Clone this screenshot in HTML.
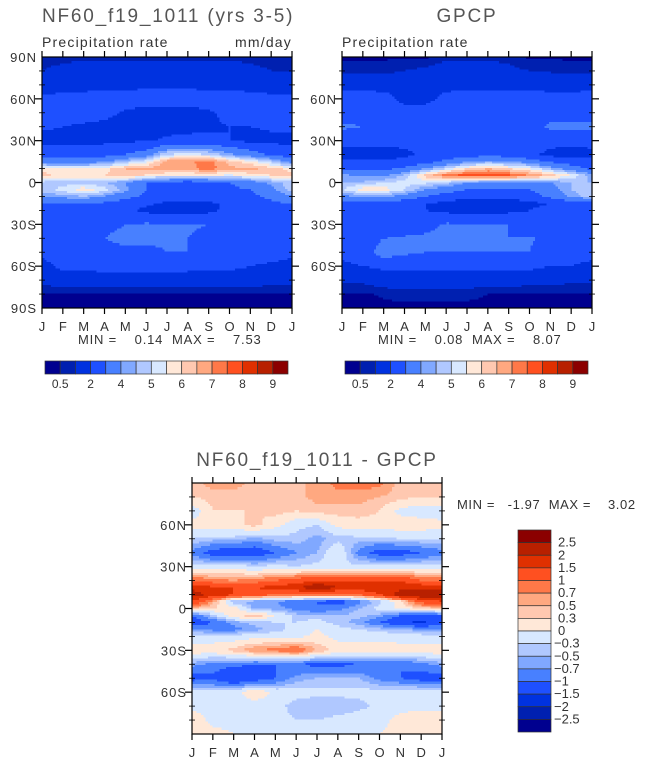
<!DOCTYPE html>
<html><head><meta charset="utf-8">
<style>
html,body{margin:0;padding:0;background:#fff;}
svg{display:block;font-family:"Liberation Sans",sans-serif;}
</style></head>
<body>
<svg id="root" width="645" height="763" viewBox="0 0 645 763" xmlns="http://www.w3.org/2000/svg">
<g id="p1"></g>
<g id="p2"></g>
<g id="p3"></g>
<g id="cb"></g>
<g id="txt">
<text x="42" y="22" font-size="19" letter-spacing="1.8" fill="#555">NF60_f19_1011 (yrs 3-5)</text>
<text x="42" y="47" font-size="14" letter-spacing="1.2" fill="#333">Precipitation rate</text>
<text x="292" y="47" font-size="14" letter-spacing="1.2" fill="#333" text-anchor="end">mm/day</text>
<text x="78" y="344" font-size="13" letter-spacing="0.8" fill="#333" xml:space="preserve">MIN =    0.14  MAX =    7.53</text>
<text x="467" y="22" font-size="19" letter-spacing="1.8" fill="#555" text-anchor="middle">GPCP</text>
<text x="342" y="47" font-size="14" letter-spacing="1.2" fill="#333">Precipitation rate</text>
<text x="378" y="344" font-size="13" letter-spacing="0.8" fill="#333" xml:space="preserve">MIN =    0.08  MAX =    8.07</text>
<text x="317" y="466" font-size="19" letter-spacing="1.8" fill="#555" text-anchor="middle">NF60_f19_1011 - GPCP</text>
<text x="457" y="509" font-size="13" letter-spacing="0.6" fill="#333" xml:space="preserve">MIN =   -1.97  MAX =    3.02</text>
</g>
</svg>
<script>
const months=['J','F','M','A','M','J','J','A','S','O','N','D','J'];
const lats=[90,80,70,60,50,40,30,20,15,10,5,0,-5,-10,-15,-20,-30,-40,-50,-60,-70,-80,-90];
const modelVals=[
[0.8,0.8,0.8,0.8,0.8,0.8,0.7,0.7,0.8,0.8,0.8,0.8,0.8],
[1.0,1.2,1.5,1.5,1.5,1.5,1.5,1.5,1.5,1.5,1.2,1.0,1.0],
[1.6,1.7,1.8,1.8,1.8,1.9,1.9,1.9,1.8,1.8,1.7,1.6,1.6],
[2.2,2.2,2.2,2.3,2.3,2.3,2.3,2.3,2.3,2.3,2.3,2.2,2.2],
[2.3,2.3,2.3,2.2,1.9,1.8,1.8,1.8,1.9,2.2,2.3,2.3,2.3],
[2.1,2.0,1.9,1.8,1.7,1.7,1.8,1.8,1.9,2.0,2.0,2.1,2.1],
[1.8,1.8,1.8,1.8,1.9,1.9,2.1,2.2,2.2,2.0,1.8,1.8,1.8],
[2.5,2.5,2.5,2.7,3,3.5,5,5.2,5,4.2,3.5,2.8,2.5],
[3.5,3.5,3.5,3.8,4.6,5.3,6.8,6.9,7.2,6.3,5.6,4.8,3.5],
[5.8,5.5,5.5,5.8,6.5,6.6,6.9,6.8,7.3,6.6,6.7,6.3,5.8],
[6.2,5.8,5.8,6,6.4,5.9,5.5,5.5,5.5,5.4,5.7,6,6.2],
[4.8,4.7,4.8,4.5,4,3,2.8,2.5,2.8,3,3.5,4.2,4.8],
[4.8,5.2,5.8,5.3,4.2,3,2.6,2.6,2.8,2.8,3,3.8,4.8],
[4,4.3,4.5,4,3.3,2.8,2.5,2.5,2.6,2.8,2.8,3.2,4],
[3,3,3,2.8,2.5,2.2,1.8,1.8,1.8,2.2,2.5,2.8,3],
[2.5,2.5,2.5,2.2,2.2,1.8,1.6,1.6,1.8,2.2,2.5,2.5,2.5],
[2.5,2.5,2.6,2.8,3,3.1,3.1,3.1,3,2.8,2.6,2.5,2.5],
[2.2,2.4,2.6,3,3.2,3.2,3.1,3,2.8,2.5,2.2,2.2,2.2],
[2.2,2.5,2.8,2.8,2.8,2.8,3,3,2.8,2.8,2.8,2.5,2.2],
[1.7,2.2,2.2,2.3,2.3,2.3,2.3,2.3,2.2,2.2,2,1.8,1.7],
[1.4,1.5,1.5,1.6,1.6,1.5,1.5,1.5,1.5,1.5,1.5,1.4,1.4],
[0.4,0.4,0.4,0.4,0.4,0.4,0.4,0.4,0.4,0.4,0.4,0.4,0.4],
[0.3,0.3,0.3,0.3,0.3,0.3,0.3,0.3,0.3,0.3,0.3,0.3,0.3]];
const gpcpVals=[
[0.4,0.4,0.4,0.4,0.4,0.8,0.8,0.8,0.8,0.4,0.4,0.4,0.4],
[0.8,0.8,0.8,1,1.2,1.5,1.5,1.5,1.2,1,0.9,0.8,0.8],
[1.6,1.6,1.7,1.7,1.8,1.8,1.8,1.8,1.8,1.8,1.7,1.6,1.6],
[2.5,2.5,2.3,1.8,1.8,2.2,2.3,2.3,2.3,2.3,2.3,2.4,2.5],
[2.5,2.5,2.3,2.3,2.3,2.3,2.3,2.3,2.3,2.5,2.6,2.6,2.5],
[3.2,3,2.5,2.3,2.3,2.3,2.3,2.3,2.3,2.6,3.2,3.2,3.2],
[2.3,2.3,2.3,2.3,2.3,2.3,2.3,2.3,2.3,2.3,2.3,2.3,2.3],
[1.5,1.5,1.5,1.8,2.2,2.5,2.6,2.7,2.6,2.2,1.8,1.5,1.8],
[2.2,2.2,2.2,2.3,2.5,3.2,3.8,4.2,4,3.5,2.8,2.5,2.2],
[2.8,2.8,2.8,3.2,4,5,6,6.5,6,5.5,4.5,3.5,2.8],
[4.2,3.8,3.8,4.6,6.2,7.3,7.8,8,7.6,7,6.3,5.5,4.2],
[4.5,4.6,5,5.2,5.2,4.8,4,3.8,3.8,4,4,4.5,4.5],
[5,5.8,5.8,5,4,3.5,3,3,3,3,3.6,4.5,5],
[3.8,4.2,4.2,3.7,3,2.5,2.3,2.3,2.3,2.5,3.3,4.2,4.8],
[2.5,2.5,2.5,2.3,2,1.8,1.5,1.5,1.5,1.8,2,2.3,2.5],
[2.3,2.3,2.3,2.3,2,1.8,1.6,1.6,1.8,2,2.3,2.3,2.3],
[2.3,2.3,2.3,2.5,2.8,3.1,3.1,3.1,3,2.5,2.3,2.3,2.3],
[2.3,2.4,3,3.1,3.1,3.1,3,3,3,3.1,2.8,2.3,2.3],
[2.3,2.5,3.5,3.2,3,3,3,3,3,3,2.5,2.3,2.3],
[1.8,2,2.2,2.2,2.2,2.2,2.2,2.2,2.2,2.2,2,2,1.8],
[1.2,1.2,1.5,1.5,1.5,1.5,1.5,1.5,1.5,1.4,1.3,1.2,1.2],
[0.4,0.4,0.6,0.8,0.8,0.8,0.7,0.5,0.4,0.4,0.4,0.4,0.4],
[0.3,0.3,0.3,0.3,0.3,0.3,0.3,0.3,0.3,0.3,0.3,0.3,0.3]];
const diffVals=[
[0.4,0.6,0.6,0.4,0.4,0.5,0.5,0.8,0.8,0.8,0.4,0.3,0.3],
[0.3,0.4,0.4,0.4,0.4,0.4,0.6,0.6,0.6,0.5,0.4,0.3,0.3],
[-0.2,0.3,0.3,0.3,0.4,0.3,0.4,0.4,0.4,0.3,-0.1,-0.2,-0.2],
[0.1,0.2,0.2,0.4,0.1,-0.2,-0.3,0.1,0.2,0.2,0.2,0.2,0.1],
[-0.3,-0.4,-0.4,-0.6,-0.4,-0.4,-0.6,-0.4,-0.4,-0.4,-0.3,-0.3,-0.3],
[-0.8,-1.2,-1.3,-1.3,-1,-0.7,-0.5,0,-0.8,-1.2,-1.2,-1,-0.8],
[-0.2,-0.2,-0.1,-0.3,-0.2,-0.3,-0.2,-0.3,-0.2,-0.2,-0.2,-0.2,-0.2],
[1,0.8,0.7,0.8,1,1.2,1.5,1.5,1.4,1.5,1.5,1,1],
[1.8,1.6,1.5,1.5,1.7,1.9,2.6,2,1.8,1.8,1.8,1.9,1.8],
[2.3,1.8,1.5,1.2,1,0.9,0.8,0.8,1,1.5,2.3,2.5,2.3],
[1.5,0.6,-0.5,-0.6,-0.7,-0.9,-1,-1.2,-0.8,-0.4,0.2,1.2,1.5],
[0.4,0.3,0.2,-0.6,-0.6,-0.8,-1,-0.8,-0.5,-0.2,0.1,0.3,0.4],
[-1,-0.4,0.2,0.5,0,-0.4,-0.4,-0.5,-0.4,-0.6,-1,-1.3,-1],
[-1.3,-1,-0.6,-0.4,-0.3,-0.3,-0.2,-0.4,-0.6,-1,-1.4,-1.6,-1.3],
[-0.6,-0.8,-0.8,-0.6,-0.4,-0.2,0,-0.2,-0.3,-0.4,-0.5,-0.6,-0.6],
[-0.3,-0.2,-0.2,-0.1,-0.1,-0.1,0.1,-0.1,-0.1,-0.1,-0.2,-0.2,-0.3],
[0.2,0.2,0.4,0.7,0.8,1,0.5,0.2,0.2,0.2,0.2,0.2,0.2],
[-0.6,-0.8,-0.9,-1,-1,-1,-1.1,-1.1,-1,-1,-1,-0.8,-0.6],
[-1.2,-1.1,-1.5,-1.3,-1,-0.6,-0.5,-0.5,-0.5,-0.8,-1,-1.2,-1.2],
[-0.1,-0.2,-0.2,0.3,-0.1,-0.2,-0.2,-0.2,-0.2,-0.2,-0.1,-0.1,-0.1],
[-0.1,-0.1,-0.1,-0.2,-0.2,-0.4,-0.5,-0.5,-0.4,-0.2,-0.1,-0.1,-0.1],
[0.2,-0.1,-0.1,-0.1,-0.2,-0.3,-0.3,-0.2,-0.1,-0.1,0.1,0.2,0.2],
[0.1,0.1,0,0,0,0,0,0,0,0,0.1,0.1,0.1]];
const precipLevels=[0.5,1,2,3,4,4.5,5,5.5,6,6.5,7,7.5,8,8.5,9];
const precipLabels=['0.5','2','4','5','6','7','8','9'];
const diffLevels=[-2.5,-2,-1.5,-1,-0.7,-0.5,-0.3,0,0.3,0.5,0.7,1,1.5,2,2.5];
const diffLabels=['2.5','2','1.5','1','0.7','0.5','0.3','0','\u22120.3','\u22120.5','\u22120.7','\u22121','\u22121.5','\u22122','\u22122.5'];
const palette=['#00008f','#0020b0','#0032e0','#1e50ff','#4880ff','#80a8ff','#b0c8ff','#d8e8ff','#ffe8d8','#ffc8b0','#ffa880','#ff7848','#ff5020','#e03000','#b82000','#8b0000'];

const NS='http://www.w3.org/2000/svg';
function mk(tag,attrs,parent){const e=document.createElementNS(NS,tag);for(const k in attrs)e.setAttribute(k,attrs[k]);parent.appendChild(e);return e;}
function levelIndex(v,levels){let i=0;while(i<levels.length&&v>=levels[i])i++;return i;}
function sample(vals,lat,m){
  let r=0;while(r<lats.length-2&&lat<lats[r+1])r++;
  const t=(lats[r]-lat)/(lats[r]-lats[r+1]);
  let c=Math.min(Math.floor(m),11);const u=m-c;
  const a=vals[r][c]*(1-u)+vals[r][c+1]*u;
  const b=vals[r+1][c]*(1-u)+vals[r+1][c+1]*u;
  return a*(1-t)+b*t;
}
function panel(g,vals,levels,x0,y0,w,h,opts){
  const xS=m=>x0+m/12*w;
  const yS=lat=>y0+(90-lat)/180*h;
  const nx=110,ny=120;
  const cells=mk('g',{'shape-rendering':'crispEdges'},g);
  
  
  for(let j=0;j<ny;j++){
    const lat=90-(j+0.5)*180/ny;
    // merge runs of equal colour for efficiency
    let runStart=0,runIdx=-1;
    for(let i=0;i<=nx;i++){
      let idx=-2;
      if(i<nx){const m=(i+0.5)*12/nx;idx=levelIndex(sample(vals,lat,m),levels);}
      if(idx!==runIdx){
        if(runIdx>=0){
          const r=mk('rect',{x:(x0+runStart*w/nx).toFixed(2),y:(y0+j*h/ny).toFixed(2),width:((i-runStart)*w/nx+0.6).toFixed(2),height:(h/ny+0.6).toFixed(2),fill:palette[runIdx]},cells);
          
          
        }
        runStart=i;runIdx=idx;
      }
    }
  }
  const frame=mk('rect',{x:x0,y:y0,width:w,height:h,fill:'none',stroke:'#000','stroke-width':1.2},g);
  
  
  const ax=mk('g',{stroke:'#000','stroke-width':1.2},g);
  
  
  months.forEach((mo,i)=>{
    const x=xS(i);
    mk('line',{x1:x,x2:x,y1:y0,y2:y0-6},ax);
    mk('line',{x1:x,x2:x,y1:y0+h,y2:y0+h+6},ax);
    const t=mk('text',{x:x,y:y0+h+23,'font-size':13,fill:'#333','text-anchor':'middle',stroke:'none'},g);
    t.textContent=mo;
    
    
  });
  for(let lat=-80;lat<=80;lat+=10){
    const y=yS(lat);
    if(lat%30===0){
      mk('line',{x1:x0-7,x2:x0,y1:y,y2:y},ax);
      mk('line',{x1:x0+w,x2:x0+w+7,y1:y,y2:y},ax);
    }else{
      mk('line',{x1:x0-3,x2:x0+3,y1:y,y2:y,'stroke-width':0.8},ax);
      mk('line',{x1:x0+w-3,x2:x0+w+3,y1:y,y2:y,'stroke-width':0.8},ax);
    }
  }
  opts.left.forEach(l=>{
    const t=mk('text',{x:x0-5,y:yS(l[0])+5,'font-size':13,'letter-spacing':1,fill:'#333','text-anchor':'end'},g);
    t.textContent=l[1];
    
    
  });
}
const L1=[[90,'90N'],[60,'60N'],[30,'30N'],[0,'0'],[-30,'30S'],[-60,'60S'],[-90,'90S']];
const L2=[[60,'60N'],[30,'30N'],[0,'0'],[-30,'30S'],[-60,'60S']];
panel(document.getElementById('p1'),modelVals,precipLevels,42,57,250,251,{left:L1});
panel(document.getElementById('p2'),gpcpVals,precipLevels,342,57,250,251,{left:L2});
panel(document.getElementById('p3'),diffVals,diffLevels,192,483,250,251,{left:L2});

const cb=document.getElementById('cb');
function hbar(x0,y0,w,h,name){
  const g=mk('g',{},cb);
  
  
  const bw=w/16;
  palette.forEach((c,i)=>{
    const r=mk('rect',{x:x0+i*bw,y:y0,width:bw,height:h,fill:c,stroke:'#333','stroke-width':0.7},g);
    
    
  });
  precipLabels.forEach((lab,k)=>{
    const t=mk('text',{x:x0+(2*k+1)*bw,y:y0+h+14,'font-size':12,fill:'#333','text-anchor':'middle'},g);
    t.textContent=lab;
    
    
  });
}
hbar(45,361,243,13,'model-colorbar');
hbar(345,361,243,13,'gpcp-colorbar');
(function(){
  const g=mk('g',{},cb);
  
  
  const x0=518,y0=530,w=33,h=202,bh=h/16;
  palette.slice().reverse().forEach((c,i)=>{
    const r=mk('rect',{x:x0,y:y0+i*bh,width:w,height:bh,fill:c,stroke:'#333','stroke-width':0.7},g);
    
    
  });
  diffLabels.forEach((lab,k)=>{
    const neg=lab.charAt(0)==='\u2212';
    const t=mk('text',{x:neg?554:558,y:y0+(k+1)*bh+4,'font-size':13,fill:'#333'},g);
    t.textContent=lab;
    
    
  });
})();
</script>
</body></html>
